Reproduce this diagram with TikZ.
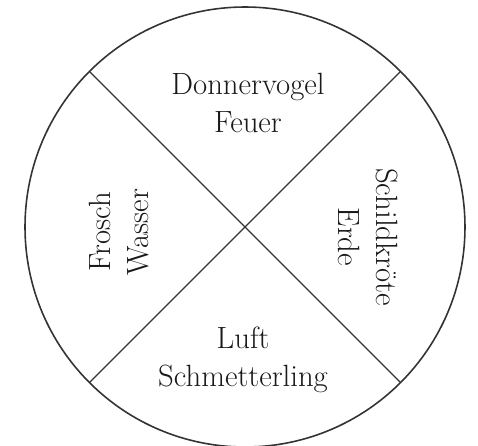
\documentclass[tikz,border=0pt]{standalone}
\usepackage{tikz}

\begin{document}
\begin{tikzpicture}
% medicine wheel, one unit = one pixel of the source
\def\pxsz{0.02cm}
\providecommand{\wheelLineColor}{black!80}
\providecommand{\wheelRimWidth}{0.9pt}
\providecommand{\wheelSpokeWidth}{0.7pt}
\tikzset{
  wheeltext/.style={align=center, text=black!90, font=\fontsize{17.5}{22}\selectfont, inner sep=0pt},
}
\begin{scope}[x=\pxsz, y=-\pxsz, line cap=round, line join=round]
  % Page frame
  \useasboundingbox (0,0) rectangle (478,446);
  % Rim
  \node[circle, draw=\wheelLineColor, line width=\wheelRimWidth, minimum size={440*\pxsz}, inner sep=0pt, outer sep=0pt] (wheel) at (245,227) {};
  % Spokes
  \begin{scope}[draw=\wheelLineColor, line width=\wheelSpokeWidth]
    \draw (wheel.135) -- (wheel.-45);
    \draw (wheel.45) -- (wheel.-135);
  \end{scope}
  % Quarters
  \node[wheeltext] (north) at (248,103) {Donnervogel\\Feuer};
  \node[wheeltext, rotate=90] (west) at (119,232) {Frosch\\Wasser};
  \node[wheeltext, rotate=-90] (east) at (368,237) {Schildkröte\\Erde};
  \node[wheeltext] (south) at (243,360) {Luft\\Schmetterling};
\end{scope}
\end{tikzpicture}
\end{document}
